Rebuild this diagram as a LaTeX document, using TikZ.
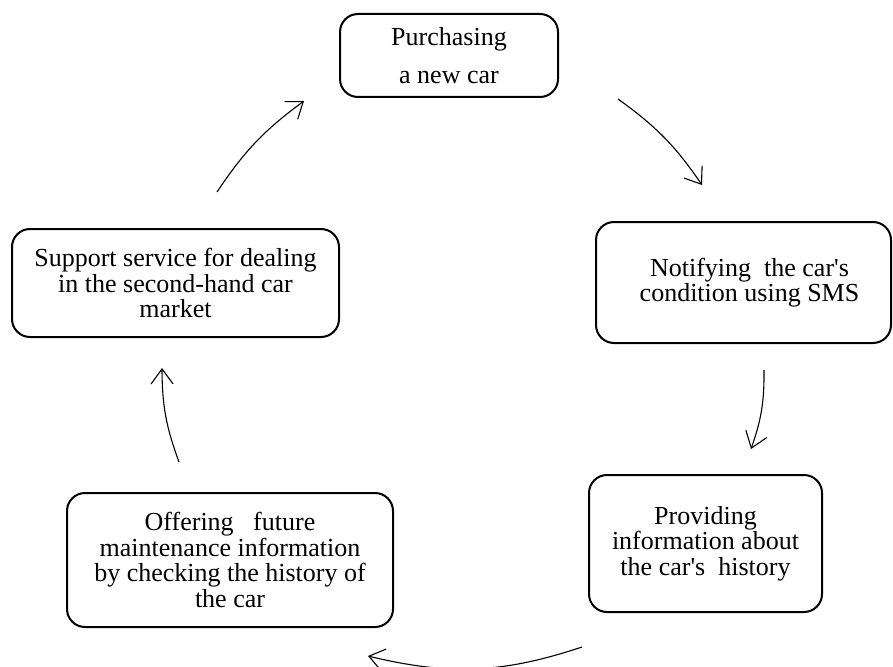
\documentclass[tikz,border=0pt]{standalone}
\usepackage{fontspec}
\setmainfont{Liberation Serif}
\usetikzlibrary{arrows.meta}
\begin{document}
\begin{tikzpicture}[x=1pt,y=-1pt,
  stage/.style={draw, line width=2pt, rounded corners=18pt, align=center,
    inner sep=0pt, font=\fontsize{26}{25.5}\selectfont},
  flow/.style={line width=1.1pt,
    -{Straight Barb[length=15pt,width=22pt,line width=1.1pt]}}]
\useasboundingbox (0,0) rectangle (893,666);

\node[stage, minimum width=218pt, minimum height=83pt] (buy) at (449,55.5)
  {Purchasing\\[13pt]a new car};
\node[stage, minimum width=295pt, minimum height=121pt] (sms) at (743.5,282.5)
  {\hspace*{12pt}Notifying\ \ the car\textquotesingle s\\\hspace*{12pt}condition using SMS};
\node[stage, minimum width=233pt, minimum height=137pt] (hist) at (705.5,543.5)
  {Providing\\information about\\the car\textquotesingle s\ \ history};
\node[stage, minimum width=326pt, minimum height=134pt] (maint) at (230,560)
  {Offering\ \ \ future\\maintenance information\\by checking the history of\\the car};
\node[stage, minimum width=327pt, minimum height=108pt] (market) at (175.5,283)
  {Support service for dealing\\in the second-hand car\\market};

\coordinate (a1s) at (217,192);  \coordinate (a1e) at (304,101);
\coordinate (a2s) at (618,99);   \coordinate (a2e) at (702,185);
\coordinate (a3s) at (764,370);  \coordinate (a3e) at (751,449);
\coordinate (a4s) at (582,647);  \coordinate (a4e) at (368,656);
\coordinate (a5s) at (179,462);  \coordinate (a5e) at (162,368);

\draw[flow] (a1s) to[bend left=10] (a1e);
\draw[flow] (a2s) to[bend left=10] (a2e);
\draw[flow] (a3s) to[bend left=10] (a3e);
\draw[flow] (a4s) to[bend left=16] (a4e);
\draw[flow] (a5s) to[bend left=10] (a5e);
\end{tikzpicture}
\end{document}
